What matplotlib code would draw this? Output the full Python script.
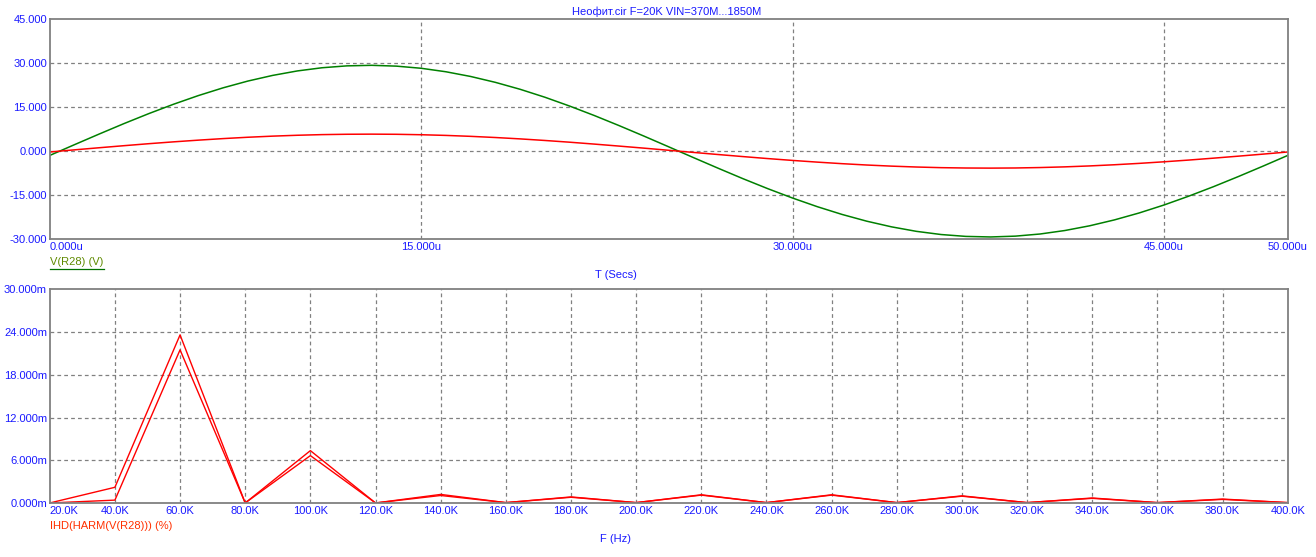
import numpy as np
import matplotlib
matplotlib.use('Agg')
import matplotlib.pyplot as plt
from matplotlib.lines import Line2D

plt.rcParams['font.family'] = ['Liberation Sans', 'DejaVu Sans']
plt.rcParams['font.size'] = 8

# time domain data (T in us, volts)
t_us = list(range(0, 51))
v_r28 = [-1.47, 2.21, 5.85, 9.41, 12.81, 16.01, 18.96, 21.61, 23.92, 25.85,
         27.38, 28.47, 29.11, 29.30, 29.02, 28.29, 27.10, 25.49, 23.48, 21.11,
         18.40, 15.38, 12.14, 8.70, 5.13, 1.47, -2.21, -5.85, -9.41, -12.81,
         -16.01, -18.96, -21.61, -23.92, -25.85, -27.38, -28.47, -29.11, -29.30, -29.02,
         -28.29, -27.10, -25.49, -23.48, -21.11, -18.40, -15.38, -12.14, -8.70, -5.13,
         -1.47]
v_red = [-0.29, 0.44, 1.16, 1.86, 2.54, 3.17, 3.75, 4.28, 4.74, 5.12,
         5.42, 5.64, 5.76, 5.80, 5.75, 5.60, 5.37, 5.05, 4.65, 4.18,
         3.64, 3.05, 2.40, 1.72, 1.02, 0.29, -0.44, -1.16, -1.86, -2.54,
         -3.17, -3.75, -4.28, -4.74, -5.12, -5.42, -5.64, -5.76, -5.80, -5.75,
         -5.60, -5.37, -5.05, -4.65, -4.18, -3.64, -3.05, -2.40, -1.72, -1.02,
         -0.29]

# harmonics (F in kHz, IHD in m%)
f_khz = [20, 40, 60, 80, 100, 120, 140, 160, 180, 200,
         220, 240, 260, 280, 300, 320, 340, 360, 380, 400]
ihd_a = [0.0, 2.2, 23.6, 0.0, 7.35, 0.0, 1.2, 0.05, 0.85, 0.05,
         1.15, 0.05, 1.15, 0.05, 1.0, 0.05, 0.7, 0.05, 0.55, 0.05]
ihd_b = [0.0, 0.4, 21.5, 0.0, 6.65, 0.0, 1.05, 0.05, 0.8, 0.05,
         1.1, 0.05, 1.1, 0.05, 0.95, 0.05, 0.65, 0.05, 0.5, 0.05]

top_ticks = [0, 15, 30, 45, 50]
top_ticklabels = ['0.000u', '15.000u', '30.000u', '45.000u', '50.000u']
top_yticks = [-30, -15, 0, 15, 30, 45]
top_yticklabels = ['-30.000', '-15.000', '0.000', '15.000', '30.000', '45.000']
bot_yticks = [0, 6, 12, 18, 24, 30]
bot_yticklabels = ['0.000m', '6.000m', '12.000m', '18.000m', '24.000m', '30.000m']
bot_xticklabels = ['%d.0K' % f for f in f_khz]

tick_blue = '#1a1aff'
grid_kw = dict(color='#808080', linestyle=(0, (3, 2.5)), linewidth=0.9)

fig = plt.figure(figsize=(13.16, 5.57), dpi=100)
ax1 = fig.add_axes([0.0378, 0.5709, 0.9407, 0.3944])
ax2 = fig.add_axes([0.0378, 0.0970, 0.9407, 0.3836])

for ax in (ax1, ax2):
    for s in ax.spines.values():
        s.set_color('#808080')
        s.set_linewidth(1.3)
    ax.tick_params(length=0, colors=tick_blue, labelsize=8)

# top panel
ax1.plot(t_us, v_r28, color='#008000', linewidth=1.1)
ax1.plot(t_us, v_red, color='#ff0000', linewidth=1.1)
ax1.set_xlim(0, 50)
ax1.set_ylim(-30, 45)
for x in [15, 30, 45]:
    ax1.axvline(x, zorder=0, **grid_kw)
for y in [-15, 0, 15, 30]:
    ax1.axhline(y, zorder=0, **grid_kw)
ax1.set_xticks(top_ticks)
ax1.set_xticklabels(top_ticklabels)
ax1.get_xticklabels()[0].set_horizontalalignment('left')
ax1.set_yticks(top_yticks)
ax1.set_yticklabels(top_yticklabels)
ax1.tick_params(axis='x', pad=2)
ax1.tick_params(axis='y', pad=2)

# bottom panel
ax2.plot(f_khz, ihd_a, color='#ff0000', linewidth=1.0)
ax2.plot(f_khz, ihd_b, color='#ff0000', linewidth=1.0)
ax2.set_xlim(20, 400)
ax2.set_ylim(0, 30)
for x in f_khz[1:-1]:
    ax2.axvline(x, zorder=0, **grid_kw)
for y in bot_yticks[1:-1]:
    ax2.axhline(y, zorder=0, **grid_kw)
ax2.set_xticks(f_khz)
ax2.set_xticklabels(bot_xticklabels)
ax2.get_xticklabels()[0].set_horizontalalignment('left')
ax2.set_yticks(bot_yticks)
ax2.set_yticklabels(bot_yticklabels)
ax2.tick_params(axis='x', pad=2)
ax2.tick_params(axis='y', pad=2)

# texts
W, H = 1316, 557
fig.text(667 / W, 1 - 12 / H, 'Неофит.cir F=20K VIN=370M...1850M', color=tick_blue,
         ha='center', va='center', fontsize=8)
fig.text(616 / W, 1 - 275 / H, 'T (Secs)', color=tick_blue, ha='center', va='center', fontsize=8)
fig.text(616 / W, 1 - 539 / H, 'F (Hz)', color=tick_blue, ha='center', va='center', fontsize=8)
fig.text(50 / W, 1 - 262 / H, 'V(R28) (V)', color='#5f8a00', ha='left', va='center', fontsize=8)
fig.add_artist(Line2D([50 / W, 104 / W], [1 - 269 / H, 1 - 269 / H], color='#007000',
                      linewidth=0.9, transform=fig.transFigure))
fig.text(50 / W, 1 - 526 / H, 'IHD(HARM(V(R28))) (%)', color='#ff3000', ha='left', va='center',
         fontsize=8)

fig.savefig('out.png', dpi=100, facecolor='white')
